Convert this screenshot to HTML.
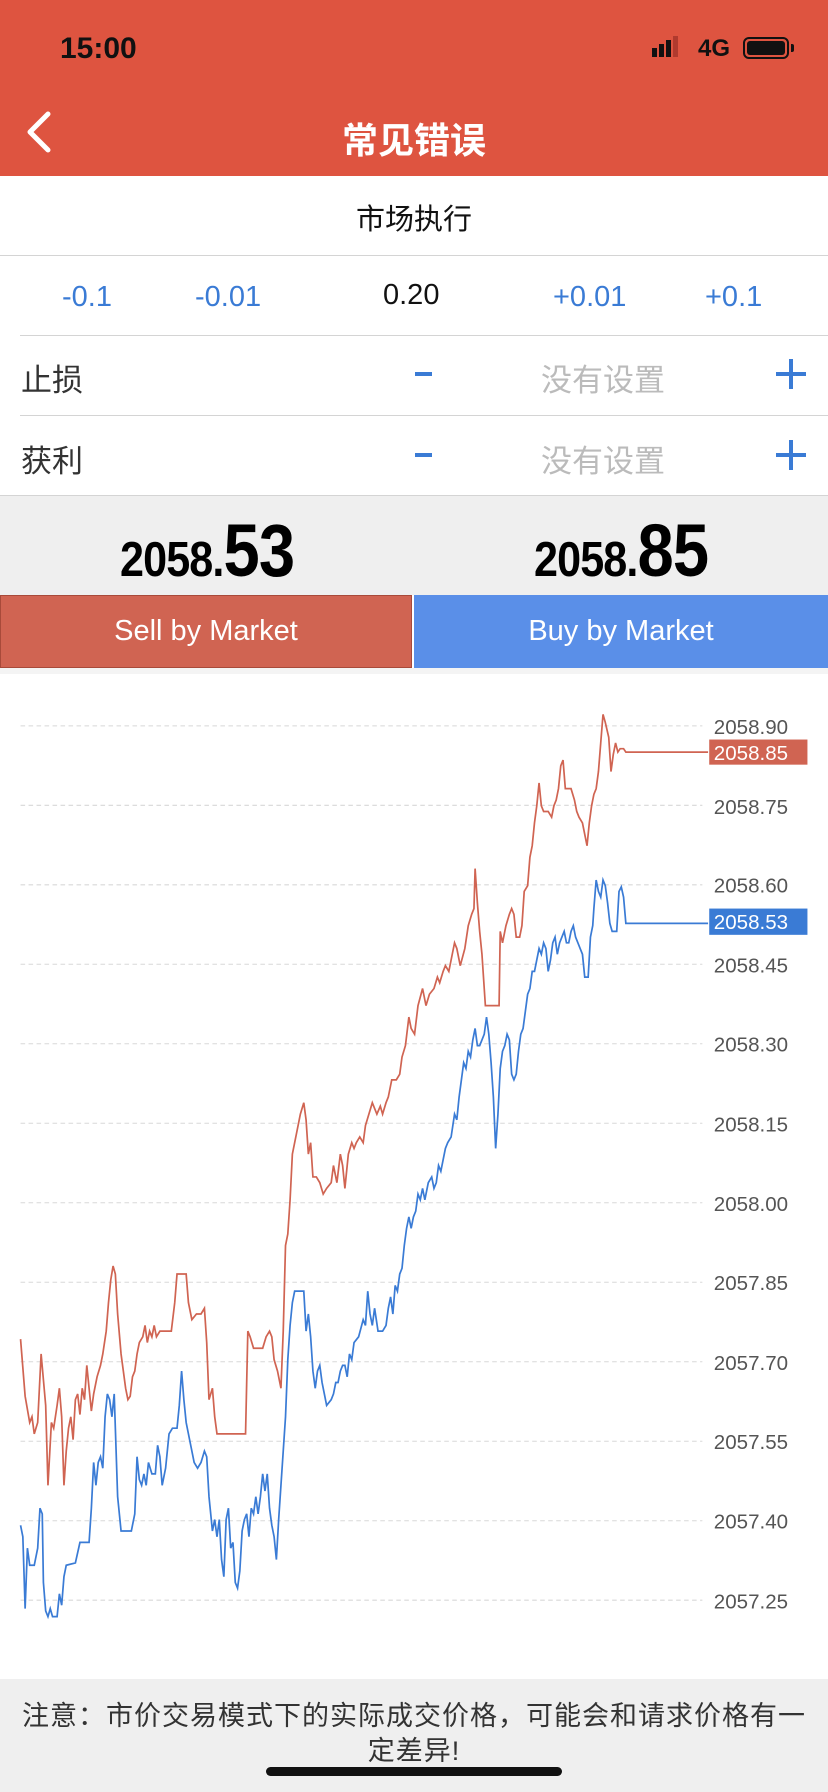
<!DOCTYPE html>
<html><head><meta charset="utf-8"><style>
*{margin:0;padding:0;box-sizing:border-box}
body{width:828px;height:1792px;overflow:hidden;background:#fff;font-family:"Liberation Sans","Noto Sans CJK SC",sans-serif;position:relative}
.abs{position:absolute}
.hdr{left:0;top:0;width:828px;height:176px;background:#de5440}
.line{height:1px;background:#d4d4d4}
.blue{color:#3a7bd5}
.c{text-align:center}
</style></head><body>
<div class="abs hdr"></div>
<div class="abs" style="left:60px;top:32px;font-size:30px;font-weight:bold;color:#111">15:00</div>
<div class="abs" style="left:652px;top:34px;width:26px;height:26px">
 <div class="abs" style="left:0;top:14px;width:5px;height:9px;background:#111"></div>
 <div class="abs" style="left:7px;top:10px;width:5px;height:13px;background:#111"></div>
 <div class="abs" style="left:14px;top:6px;width:5px;height:17px;background:#111"></div>
 <div class="abs" style="left:21px;top:2px;width:5px;height:21px;background:#b03a2e"></div>
</div>
<div class="abs" style="left:698px;top:35px;font-size:24px;font-weight:bold;color:#111">4G</div>
<div class="abs" style="left:743px;top:37px;width:46px;height:22px;border:2px solid #111;border-radius:6px;padding:2px"><div style="width:100%;height:100%;background:#111;border-radius:3px"></div></div>
<div class="abs" style="left:791px;top:44px;width:3px;height:8px;background:#111;border-radius:0 2px 2px 0"></div>
<svg class="abs" style="left:22px;top:110px" width="34" height="44"><polyline points="26,4 8,22 26,40" fill="none" stroke="#fff" stroke-width="5" stroke-linecap="round" stroke-linejoin="round"/></svg>
<div class="abs c" style="left:0;top:112px;width:828px;font-size:36px;font-weight:bold;color:#fff">常见错误</div>
<div class="abs c" style="left:0;top:196px;width:828px;font-size:29px;color:#111">市场执行</div>
<div class="abs line" style="left:0;top:255px;width:828px"></div>
<div class="abs blue" style="left:62px;top:281px;font-size:29px">-0.1</div>
<div class="abs blue" style="left:195px;top:281px;font-size:29px">-0.01</div>
<div class="abs" style="left:383px;top:279px;font-size:29px;color:#111">0.20</div>
<div class="abs blue" style="left:553px;top:281px;font-size:29px">+0.01</div>
<div class="abs blue" style="left:705px;top:281px;font-size:29px">+0.1</div>
<div class="abs line" style="left:20px;top:335px;width:808px"></div>
<div class="abs" style="left:21px;top:355px;font-size:31px;color:#333">止损</div>
<div class="abs" style="left:415px;top:372px;width:17px;height:4px;background:#3a7bd5"></div>
<div class="abs" style="left:541px;top:355px;font-size:31px;color:#bbb">没有设置</div>
<div class="abs" style="left:776px;top:372px;width:30px;height:4px;background:#3a7bd5"></div>
<div class="abs" style="left:789px;top:359px;width:4px;height:30px;background:#3a7bd5"></div>
<div class="abs line" style="left:20px;top:415px;width:808px"></div>
<div class="abs" style="left:21px;top:436px;font-size:31px;color:#333">获利</div>
<div class="abs" style="left:415px;top:453px;width:17px;height:4px;background:#3a7bd5"></div>
<div class="abs" style="left:541px;top:436px;font-size:31px;color:#bbb">没有设置</div>
<div class="abs" style="left:776px;top:453px;width:30px;height:4px;background:#3a7bd5"></div>
<div class="abs" style="left:789px;top:440px;width:4px;height:30px;background:#3a7bd5"></div>
<div class="abs" style="left:0;top:495px;width:828px;height:100px;background:#efefef;border-top:1px solid #d4d4d4"></div>
<div class="abs" style="left:120px;top:508px;font-weight:bold;color:#000;white-space:nowrap;transform:scaleX(0.88);transform-origin:left top;letter-spacing:-1px"><span style="font-size:49px">2058.</span><span style="font-size:74px">53</span></div>
<div class="abs" style="left:534px;top:508px;font-weight:bold;color:#000;white-space:nowrap;transform:scaleX(0.88);transform-origin:left top;letter-spacing:-1px"><span style="font-size:49px">2058.</span><span style="font-size:74px">85</span></div>
<div class="abs c" style="left:0;top:595px;width:412px;height:73px;background:#d06452;border:1px solid #a84a3a;color:#fff;font-size:29px;line-height:71px">Sell by Market</div>
<div class="abs c" style="left:414px;top:595px;width:414px;height:73px;background:#5a8fe8;color:#fff;font-size:29px;line-height:73px">Buy by Market</div>
<div class="abs" style="left:0;top:668px;width:828px;height:6px;background:#f4f4f4"></div>
<svg class="abs" style="left:0;top:0" width="828" height="1792" viewBox="0 0 725 1568">
<g stroke="#d8d8d8" stroke-width="0.9" stroke-dasharray="4,3">
<line x1="18" x2="615" y1="635" y2="635"/><line x1="18" x2="615" y1="704.6" y2="704.6"/><line x1="18" x2="615" y1="774.2" y2="774.2"/><line x1="18" x2="615" y1="843.8" y2="843.8"/><line x1="18" x2="615" y1="913.4" y2="913.4"/><line x1="18" x2="615" y1="983" y2="983"/><line x1="18" x2="615" y1="1052.6" y2="1052.6"/><line x1="18" x2="615" y1="1122.2" y2="1122.2"/><line x1="18" x2="615" y1="1191.8" y2="1191.8"/><line x1="18" x2="615" y1="1261.4" y2="1261.4"/><line x1="18" x2="615" y1="1331" y2="1331"/><line x1="18" x2="615" y1="1400.6" y2="1400.6"/>
</g>
<g font-family="Liberation Sans, sans-serif" font-size="18" fill="#555">
<text x="625" y="642">2058.90</text><text x="625" y="712">2058.75</text><text x="625" y="781">2058.60</text><text x="625" y="851">2058.45</text><text x="625" y="920">2058.30</text><text x="625" y="990">2058.15</text><text x="625" y="1060">2058.00</text><text x="625" y="1129">2057.85</text><text x="625" y="1199">2057.70</text><text x="625" y="1268">2057.55</text><text x="625" y="1338">2057.40</text><text x="625" y="1408">2057.25</text>
</g>
<rect x="621" y="647" width="86" height="22" fill="#d06452"/>
<text x="625" y="665" font-family="Liberation Sans, sans-serif" font-size="18" fill="#fff">2058.85</text>
<rect x="621" y="795" width="86" height="23" fill="#3a7bd5"/>
<text x="625" y="813" font-family="Liberation Sans, sans-serif" font-size="18" fill="#fff">2058.53</text>
<polyline fill="none" stroke="#d06452" stroke-width="1.5" points="18,1172 22,1222 26,1245 28,1240 30,1255 33,1245 36,1185 40,1230 42,1300 45,1245 47,1250 50,1230 52,1215 54,1240 56,1300 58,1270 60,1250 62,1240 64,1260 66,1225 68,1220 70,1238 72,1215 74,1225 76,1195 78,1215 80,1235 82,1220 85,1205 88,1195 90,1185 93,1165 95,1140 97,1120 99,1108 101,1115 103,1150 106,1185 108,1200 110,1215 112,1225 114,1222 116,1205 118,1200 120,1185 122,1175 125,1170 127,1160 129,1175 131,1165 133,1170 135,1160 137,1170 140,1165 150,1165 153,1140 155,1115 163,1115 165,1140 168,1155 172,1150 176,1150 179,1145 181,1175 183,1225 186,1215 188,1240 190,1255 215,1255 217,1165 219,1170 222,1180 230,1180 233,1170 236,1165 238,1170 240,1190 243,1200 246,1215 248,1165 250,1090 252,1080 254,1050 256,1010 258,1000 260,990 263,975 266,965 268,980 270,1010 272,1000 274,1030 277,1030 280,1035 283,1045 286,1040 290,1035 292,1020 295,1035 298,1010 300,1020 302,1040 305,1010 308,1000 310,1005 312,1000 315,995 318,1000 320,985 323,975 326,965 328,970 330,975 333,968 335,975 338,965 340,960 343,945 347,945 350,940 352,925 355,915 358,890 360,900 363,905 366,880 370,865 373,880 376,870 380,865 383,855 385,860 388,850 390,845 393,850 396,835 398,825 400,830 403,845 407,830 410,810 413,800 415,795 416,760 418,790 420,815 422,835 425,880 437,880 438,815 440,825 443,810 446,800 448,795 450,800 452,820 455,820 457,810 459,780 462,775 464,750 466,740 468,720 470,705 472,685 474,705 476,710 480,710 483,715 485,705 487,700 489,690 491,670 493,665 495,690 500,690 503,700 505,710 507,715 510,720 512,730 514,740 516,720 518,705 520,695 522,690 524,675 526,650 528,625 530,632 533,645 535,675 537,660 539,650 541,658 543,655 546,655 548,658 620,658"/>
<polyline fill="none" stroke="#3a7bd5" stroke-width="1.5" points="18,1335 20,1345 22,1408 24,1355 26,1370 30,1370 33,1355 35,1320 37,1325 38,1385 40,1410 42,1415 44,1408 46,1415 50,1415 52,1395 54,1405 56,1380 58,1370 66,1368 70,1350 78,1350 80,1320 82,1280 84,1300 86,1280 88,1275 90,1285 92,1240 94,1220 96,1225 98,1240 100,1220 103,1310 106,1340 115,1340 118,1325 120,1275 122,1295 124,1300 126,1290 128,1300 130,1280 133,1290 136,1290 138,1265 140,1275 142,1300 145,1285 148,1255 151,1250 155,1250 157,1230 159,1200 161,1225 163,1245 166,1260 170,1280 173,1285 176,1280 179,1270 181,1275 183,1310 186,1340 188,1330 190,1345 192,1330 194,1365 196,1380 198,1330 200,1320 202,1355 204,1350 206,1385 208,1390 210,1375 212,1340 214,1330 216,1325 218,1345 220,1320 222,1325 224,1310 226,1325 228,1310 230,1290 232,1305 234,1290 236,1320 238,1335 240,1345 242,1365 244,1330 246,1300 248,1270 250,1240 252,1190 254,1160 256,1140 258,1130 266,1130 268,1165 270,1150 272,1170 274,1200 276,1215 278,1200 280,1195 282,1210 284,1220 286,1230 290,1225 292,1220 294,1210 296,1210 298,1200 300,1195 302,1195 304,1205 306,1185 308,1190 310,1175 314,1170 318,1155 320,1160 322,1130 324,1150 326,1160 328,1145 331,1165 335,1165 338,1160 340,1145 342,1135 344,1150 346,1125 348,1130 350,1115 352,1110 354,1090 356,1075 358,1065 360,1075 362,1065 364,1060 366,1045 368,1050 370,1040 372,1050 375,1035 378,1030 380,1040 382,1035 384,1020 386,1025 388,1015 390,1005 392,1000 395,995 398,975 400,980 402,960 404,945 406,930 408,935 410,920 412,925 414,910 416,900 418,915 420,915 422,910 424,905 426,890 428,905 430,930 432,960 434,1005 436,975 438,935 440,920 442,915 444,905 446,910 448,940 450,945 452,940 454,920 456,905 458,900 460,885 462,870 464,865 466,850 468,850 470,840 472,830 474,835 476,825 478,830 480,850 482,840 484,825 486,820 488,835 490,825 492,820 494,815 496,825 498,825 500,815 502,810 504,820 506,825 508,830 510,835 512,855 515,855 517,820 519,810 520,795 522,770 524,780 526,785 528,770 530,775 532,790 534,808 536,815 540,815 542,780 544,776 546,785 548,808 620,808"/>
</svg>
<div class="abs" style="left:0;top:1679px;width:828px;height:113px;background:#efefef;overflow:hidden">
 <div class="c" style="padding:20px 18px 0;font-size:27px;line-height:35px;color:#333;letter-spacing:1px">注意：市价交易模式下的实际成交价格，可能会和请求价格有一定差异!</div>
</div>
<div class="abs" style="left:266px;top:1767px;width:296px;height:9px;background:#111;border-radius:5px"></div>
</body></html>
